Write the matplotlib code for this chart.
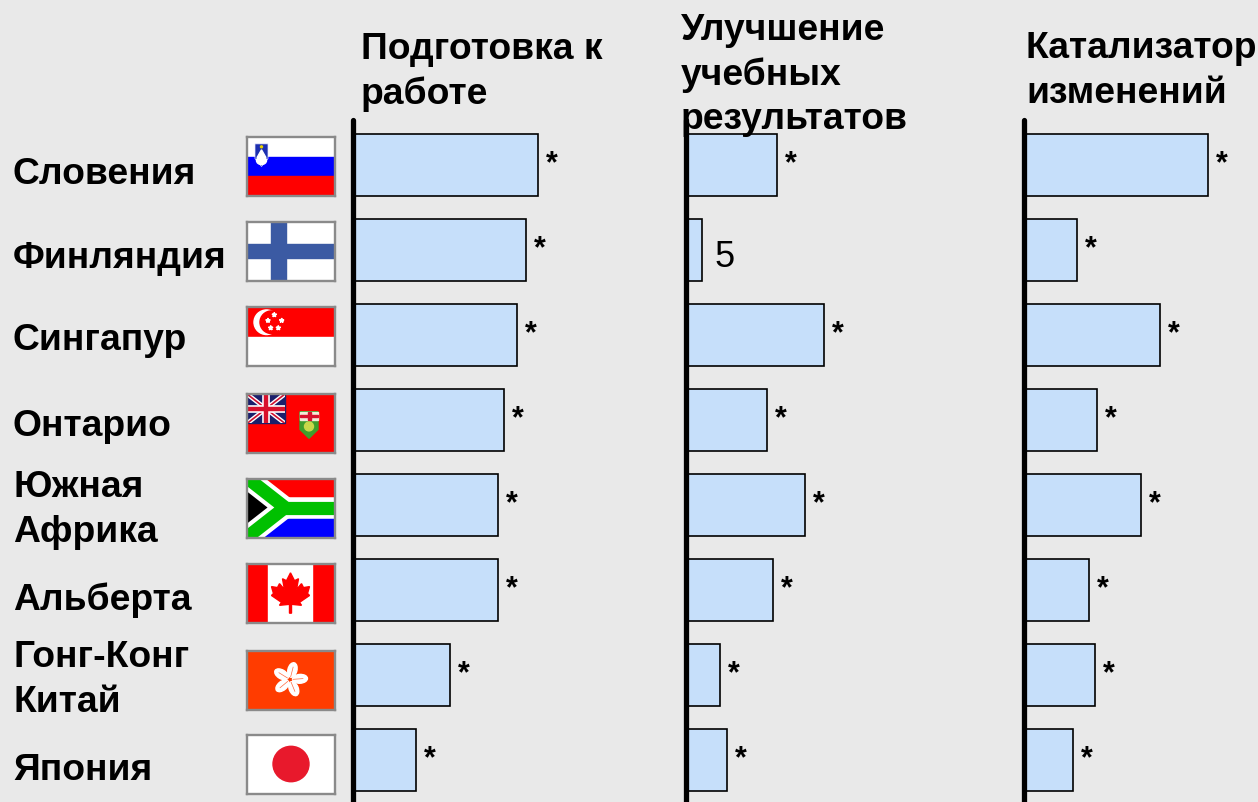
"""
Bars per country with flags - three columns
"""

import numpy as np
import matplotlib
matplotlib.use("Agg")
import matplotlib.pyplot as plt
from matplotlib.patches import Rectangle, Polygon, Circle, Ellipse

plt.rcParams['font.family'] = ['Liberation Sans', 'DejaVu Sans']

countries = ['Словения', 'Финляндия', 'Сингапур', 'Онтарио',
             'Южная\nАфрика', 'Альберта', 'Гонг-Конг\nКитай', 'Япония']
headers = ['Подготовка к\nработе', 'Улучшение\nучебных\nрезультатов', 'Катализатор\nизменений']

prep_values = [184, 172, 163, 150, 144, 144, 96, 62]
learn_values = [90, 15, 137, 80, 118, 86, 33, 40]
change_values = [183, 52, 135, 72, 116, 64, 70, 48]

prep_marks = ['*'] * 8
learn_marks = ['*', '5', '*', '*', '*', '*', '*', '*']
change_marks = ['*'] * 8

BG = '#e9e9e9'
BAR = '#c6dffa'
W, H = 1258, 802

fig = plt.figure(figsize=(W / 100, H / 100), dpi=100, facecolor=BG)


def px_axes(x0, y0, x1, y1, **kw):
    # axes from pixel box, y counted from top
    return fig.add_axes([x0 / W, 1 - y1 / H, (x1 - x0) / W, (y1 - y0) / H], **kw)


# bar columns
columns = [(353, 260, prep_values, prep_marks),
           (686, 240, learn_values, learn_marks),
           (1024, 234, change_values, change_marks)]

for left, width, values, marks in columns:
    ax = px_axes(left, 120, left + width, 802)
    ax.set_facecolor('none')
    ax.set_xlim(0, width)
    ax.set_ylim(7.494, -0.53)
    ax.barh(np.arange(len(values)), values, left=1, height=0.72,
            color=BAR, edgecolor='black', linewidth=1.2, zorder=2)
    for i, (v, m) in enumerate(zip(values, marks)):
        if m == '*':
            ax.text(v + 9, i + 0.09, m, fontsize=22, fontweight='bold', va='baseline',
                    ha='left', clip_on=False, color='black')
        else:
            ax.text(v + 14, i + 0.2, m, fontsize=26, va='baseline', ha='left',
                    clip_on=False, color='black')
    for s in ['top', 'right', 'bottom']:
        ax.spines[s].set_visible(False)
    ax.set_xticks([])
    ax.set_yticks([])
    ax.spines['left'].set_linewidth(3.8)
    ax.spines['left'].set_capstyle('round')
    ax.spines['left'].set_zorder(3)

# text layer
overlay = px_axes(0, 0, W, H)
overlay.set_xlim(0, W)
overlay.set_ylim(H, 0)
overlay.axis('off')
overlay.patch.set_alpha(0)

label_y = [174, 258, 340, 426, 510, 600, 680, 770]
for name, y in zip(countries, label_y):
    overlay.text(13, y, name, fontsize=26.8, fontweight='bold', va='center',
                 ha='left', linespacing=1.37, color='black')

header_pos = [(361, 72), (681, 75), (1026, 71)]
for text, (x, y) in zip(headers, header_pos):
    overlay.text(x, y, text, fontsize=26.8, fontweight='bold', va='center',
                 ha='left', linespacing=1.35, color='black')


# flags
def star_pts(cx, cy, r):
    ang = np.deg2rad(np.arange(10) * 36 - 90)
    rad = np.where(np.arange(10) % 2 == 0, r, r * 0.4)
    return np.c_[cx + rad * np.cos(ang), cy + rad * np.sin(ang)]


def slovenia(a):
    a.add_patch(Rectangle((0, 0), 88, 20, color='white'))
    a.add_patch(Rectangle((0, 20), 88, 20, color='#0000ff'))
    a.add_patch(Rectangle((0, 40), 88, 20, color='#ff0000'))
    a.add_patch(Polygon([(8, 7), (21, 7), (21, 22), (14.5, 30), (8, 22)], color='#1c2fb0',
                        ec='#e8e8ff', lw=0.5))
    a.add_patch(Ellipse((14.5, 24), 10, 8, color='white'))
    a.add_patch(Polygon([(10, 21), (14.5, 13), (19, 21)], color='white'))
    a.add_patch(Circle((14.5, 10), 1, color='#e6d000'))


def finland(a):
    a.add_patch(Rectangle((0, 0), 88, 60, color='white'))
    a.add_patch(Rectangle((24, 0), 15, 60, color='#3b5aa3'))
    a.add_patch(Rectangle((0, 22), 88, 15, color='#3b5aa3'))


def singapore(a):
    a.add_patch(Rectangle((0, 0), 88, 30, color='#ff0000'))
    a.add_patch(Rectangle((0, 30), 88, 30, color='white'))
    a.add_patch(Circle((19.5, 15.5), 12.5, color='white'))
    a.add_patch(Circle((24.5, 15.5), 11.5, color='#ff0000'))
    for cx, cy in [(27.3, 8), (34.7, 13.7), (21, 13.7), (31.3, 21.3), (23.7, 21.3)]:
        a.add_patch(Polygon(star_pts(cx, cy, 2.4), color='white'))


def ontario(a):
    a.add_patch(Rectangle((0, 0), 88, 60, color='#ff0000'))
    box = Rectangle((0, 0), 38, 30, color='#1b1f6b')
    a.add_patch(box)
    for xs, ys, lw, c in [([0, 38], [0, 30], 3.2, 'white'), ([0, 38], [30, 0], 3.2, 'white'),
                          ([0, 38], [0, 30], 1.2, '#d01030'), ([0, 38], [30, 0], 1.2, '#d01030'),
                          ([19, 19], [0, 30], 5.5, 'white'), ([0, 38], [15, 15], 5.5, 'white'),
                          ([19, 19], [0, 30], 3.2, '#d8102c'), ([0, 38], [15, 15], 3.2, '#d8102c')]:
        line, = a.plot(xs, ys, color=c, lw=lw, solid_capstyle='butt')
        line.set_clip_path(box)
    a.add_patch(Polygon([(53, 18), (71, 18), (71, 36), (62, 45), (53, 36)], color='#3f9e2c'))
    a.add_patch(Rectangle((53, 18), 18, 8, color='#f4ead8'))
    a.add_patch(Rectangle((60.5, 18), 3, 8, color='#d8102c'))
    a.add_patch(Rectangle((53, 21), 18, 2, color='#d8102c'))
    a.add_patch(Circle((62, 33), 4.5, color='#c9d84a'))


def south_africa(a):
    a.add_patch(Rectangle((0, 0), 88, 30, color='#ff0000'))
    a.add_patch(Rectangle((0, 30), 88, 30, color='#0000ff'))
    for lw, c in [(15.5, 'white'), (9.5, '#00c000')]:
        a.plot([-6, 38, -6], [-6, 29, 64], color=c, lw=lw, solid_joinstyle='miter')
        a.plot([38, 90], [29, 29], color=c, lw=lw, solid_capstyle='butt')
    a.add_patch(Polygon([(0, 7), (32, 29), (0, 51)], color='#ffd800'))
    a.add_patch(Polygon([(0, 13), (26, 29), (0, 45)], color='black'))


def canada(a):
    a.add_patch(Rectangle((0, 0), 88, 60, color='#ff0000'))
    a.add_patch(Rectangle((21, 0), 44, 60, color='white'))
    half = [(0, 9), (4, 17), (8, 15), (6, 26), (11, 20), (13, 24), (19, 23), (17, 30),
            (19, 32), (9, 39), (11, 42), (1, 41), (1, 50)]
    pts = [(43.5 + x, y) for x, y in half] + [(43.5 - x, y) for x, y in half[::-1]]
    a.add_patch(Polygon(pts, color='#ff0000'))


def hong_kong(a):
    a.add_patch(Rectangle((0, 0), 88, 60, color='#ff3c00'))
    for ang in [-90, -18, 54, 126, 198]:
        t = np.deg2rad(ang + 14)
        cx, cy = 43 + 10 * np.cos(t), 29 + 10 * np.sin(t)
        a.add_patch(Ellipse((cx, cy), 15, 9, angle=ang + 14, color='white'))
        a.plot([43 + 3 * np.cos(t), 43 + 13 * np.cos(t)],
               [29 + 3 * np.sin(t), 29 + 13 * np.sin(t)], color='#ff6a40', lw=0.5)


def japan(a):
    a.add_patch(Rectangle((0, 0), 88, 60, color='white'))
    a.add_patch(Circle((44, 29.5), 18, color='#e8192c'))


flag_funcs = [slovenia, finland, singapore, ontario, south_africa, canada, hong_kong, japan]
flag_tops = [137, 222, 307, 394, 479, 564, 651, 735]

for func, top in zip(flag_funcs, flag_tops):
    a = px_axes(247, top, 335, top + 59)
    a.set_xlim(0, 88)
    a.set_ylim(60, 0)
    a.set_xticks([])
    a.set_yticks([])
    func(a)
    for s in a.spines.values():
        s.set_linewidth(1.7)
        s.set_edgecolor('#8a8a8a')

fig.savefig('out.png', dpi=100, facecolor=BG)
plt.close(fig)
